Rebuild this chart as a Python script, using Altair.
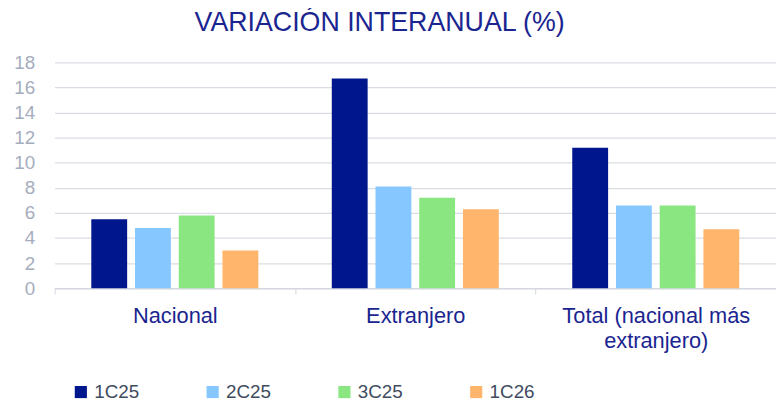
import altair as alt
import pandas as pd

categories = ["Nacional", "Extranjero", "Total (nacional más extranjero)"]
series = ["1C25", "2C25", "3C25", "1C26"]
colors = ["#00168c", "#87c7ff", "#89e681", "#ffb56b"]
values = {
    "1C25": [5.5, 16.7, 11.2],
    "2C25": [4.8, 8.1, 6.6],
    "3C25": [5.8, 7.2, 6.6],
    "1C26": [3.0, 6.3, 4.7],
}
y_ticks = [0, 2, 4, 6, 8, 10, 12, 14, 16, 18]

rows = []
for s in series:
    for c, v in zip(categories, values[s]):
        rows.append({"categoria": c, "serie": s, "valor": v})
df = pd.DataFrame(rows)

FONT = "Liberation Sans"

chart = alt.Chart(df).mark_bar().encode(
    x=alt.X(
        "categoria:N",
        sort=categories,
        scale=alt.Scale(paddingInner=0, paddingOuter=0),
        axis=alt.Axis(
            title=None,
            labelAngle=0,
            labelFont=FONT,
            labelFontSize=22,
            labelColor="#1a2590",
            labelPadding=12,
            labelLimit=400,
            labelExpr="datum.label == 'Total (nacional más extranjero)' ? ['Total (nacional más', 'extranjero)'] : datum.label",
            labelLineHeight=25,
            tickBand="extent",
            ticks=True,
            tickSize=6,
            tickColor="#d3d7de",
            domainColor="#d3d7de",
            grid=False,
        ),
    ),
    xOffset=alt.XOffset(
        "serie:N",
        sort=series,
        scale=alt.Scale(paddingInner=0.18, paddingOuter=0.84),
    ),
    y=alt.Y(
        "valor:Q",
        scale=alt.Scale(domain=[0, 18], nice=False),
        axis=alt.Axis(
            title=None,
            values=y_ticks,
            labelFont=FONT,
            labelFontSize=19,
            labelColor="#a5adbd",
            labelPadding=20,
            ticks=False,
            domain=False,
            gridColor="#d9dde3",
            gridWidth=1.3,
        ),
    ),
    color=alt.Color(
        "serie:N",
        sort=series,
        scale=alt.Scale(domain=series, range=colors),
        legend=alt.Legend(
            title=None,
            orient="none",
            legendX=17,
            legendY=323,
            direction="horizontal",
            columns=4,
            symbolType="square",
            symbolSize=150,
            symbolStrokeWidth=0,
            labelFont=FONT,
            labelFontSize=19,
            labelColor="#404b60",
            labelOffset=4,
            columnPadding=64,
        ),
    ),
).properties(
    width=728,
    height=228,
    title=alt.TitleParams(
        "VARIACIÓN INTERANUAL (%)",
        font=FONT,
        fontSize=27,
        fontWeight="normal",
        color="#1a2590",
        anchor="middle",
        dx=-36,
        offset=17,
    ),
    autosize=alt.AutoSizeParams(type="none"),
    padding={"left": 47, "top": 53, "right": 0, "bottom": 112},
).configure_view(stroke=None)

chart.save("out.html", embed_options={"renderer": "svg", "actions": False})
